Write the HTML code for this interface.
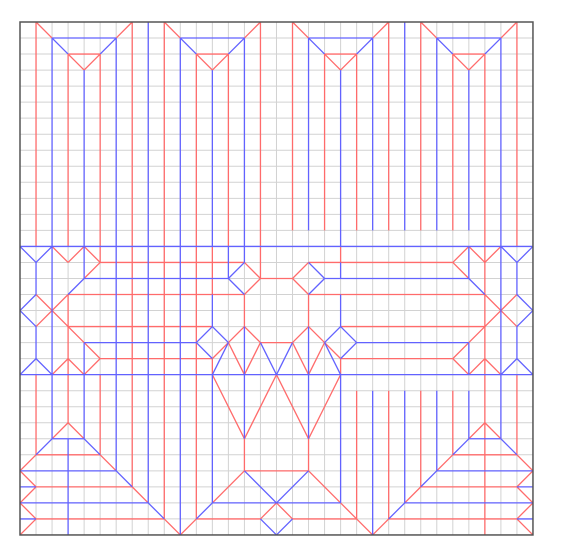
<!DOCTYPE html>
<html><head><meta charset="utf-8"><style>
html,body{margin:0;padding:0;background:#fff;width:562px;height:558px;overflow:hidden}
svg{position:absolute;left:0;top:0}
</style></head><body>
<svg id="cp" width="562" height="558"></svg>
<script>
const flapCols=[1,9,17,25];
const redSegs=[
[1,0,1,14],[3,2,3,14],[5,2,5,15],[7,0,7,14],[9,0,9,14],[11,2,11,14],[13,2,13,14],[15,0,15,16],[17,0,17,13],[19,2,19,13],[21,2,21,13],[23,0,23,13],[25,0,25,13],[27,2,27,13],[29,2,29,32],[31,0,31,14],[20,14,20,15],
[1,22,1,27],[3,17,3,25],[5,22,5,27],[7,14,7,29],[9,14,9,31],[11,14,11,31],[12,14,12,17],[12,21,12,22],[14,17,14,19],[18,17,18,19],[14,26,14,28],[18,26,18,28],[20,21,20,22],[31,22,31,27],
[21,23,21,31],[23,23,23,31],[25,23,25,29],[27,23,27,27],
[5,15,14,15],[3,17,14,17],[3,19,12,19],[5,21,12,21],[15,16,17,16],[18,15,27,15],[18,17,29,17],[20,19,29,19],[20,21,27,21],[15,20,17,20],[14,28,18,28],[1,27,5,27],[1,29,7,29],[1,31,9,31],[11,31,15,31],[17,31,21,31],[23,31,31,31],[25,29,31,29],[27,27,31,27],
[2,14,3,15],[3,15,4,14],[4,14,5,15],[5,15,4,16],[28,14,29,15],[29,15,30,14],[28,14,27,15],[27,15,28,16],
[1,17,3,19],[3,17,1,19],[29,17,31,19],[31,17,29,19],
[2,22,3,21],[3,21,4,22],[3,19,4,20],[4,20,5,21],[5,21,4,22],[28,22,29,21],[29,21,30,22],[29,19,28,20],[28,20,27,21],[27,21,28,22],
[14,15,15,16],[15,16,14,17],[17,16,18,15],[18,17,17,16],
[14,19,13,20],[14,19,15,20],[18,19,17,20],[18,19,19,20],[13,20,14,22],[15,20,14,22],[17,20,18,22],[19,20,18,22],[12,21,13,20],[20,21,19,20],
[12,22,14,26],[14,26,16,22],[16,22,18,26],[18,26,20,22],[14,28,12,30],[18,28,20,30],[15,31,16,30],[16,30,17,31],[10,32,11,31],[20,30,21,31],[21,31,22,32],[22,32,23,31],
[2,26,3,25],[3,25,4,26],[5,27,6,28],[7,29,8,30],[9,31,10,32],[1,27,0,28],[0,28,1,29],[1,29,0,30],[0,30,1,31],[1,31,0,32],
[30,26,29,25],[29,25,28,26],[27,27,26,28],[25,29,24,30],[31,27,32,28],[32,28,31,29],[31,29,32,30],[32,30,31,31],[31,31,32,32]
];
const blueSegs=[
[2,1,2,22],[4,3,4,16],[6,1,6,14],[8,0,8,14],[10,1,10,14],[12,3,12,14],[14,1,14,15],[18,1,18,13],[20,3,20,14],[20,15,20,16],[22,1,22,13],[24,0,24,13],[26,1,26,13],[28,3,28,13],[28,14,28,16],[30,1,30,26],[1,15,1,17],[1,19,1,21],[31,15,31,17],[31,19,31,21],[4,20,4,22],[28,20,28,22],
[2,22,2,26],[3,26,3,32],[4,22,4,26],[6,14,6,28],[8,14,8,30],[10,14,10,32],[12,17,12,19],[12,22,12,30],[13,14,13,16],[14,19,14,26],[18,19,18,26],[20,17,20,19],[20,22,20,30],
[22,23,22,32],[24,23,24,30],[26,23,26,28],[28,23,28,26],
[0,14,32,14],[0,22,32,22],[4,16,13,16],[4,20,11,20],[19,16,28,16],[21,20,28,20],[2,26,4,26],[0,28,6,28],[0,29,1,29],[0,30,8,30],[0,31,1,31],[12,30,20,30],[28,26,30,26],[26,28,32,28],[31,29,32,29],[24,30,32,30],[31,31,32,31],
[0,14,1,15],[1,15,2,14],[30,14,31,15],[31,15,32,14],[4,16,3,17],[28,16,29,17],[1,17,0,18],[0,18,1,19],[31,17,32,18],[32,18,31,19],[0,22,1,21],[1,21,2,22],[30,22,31,21],[31,21,32,22],
[13,16,14,15],[14,17,13,16],[18,15,19,16],[19,16,18,17],[11,20,12,19],[12,19,13,20],[11,20,12,21],[19,20,20,19],[20,19,21,20],[21,20,20,21],[13,20,12,22],[15,20,16,22],[17,20,16,22],[19,20,20,22],
[14,28,16,30],[16,30,18,28],[15,31,16,32],[16,32,17,31],[12,30,11,31],[1,27,2,26],[4,26,5,27],[6,28,7,29],[8,30,9,31],[31,27,30,26],[28,26,27,27],[26,28,25,29],[24,30,23,31]
];
const N=32;
const X0=20,Y0=22,U=16.03;
const NS='http://www.w3.org/2000/svg';
const svg=document.getElementById('cp');
function sx(i){return X0+U*i;}
function sy(j){return Y0+U*j;}
function ln(x1,y1,x2,y2,col,w){
  const l=document.createElementNS(NS,'line');
  l.setAttribute('x1',x1);l.setAttribute('y1',y1);l.setAttribute('x2',x2);l.setAttribute('y2',y2);
  l.setAttribute('stroke',col);l.setAttribute('stroke-width',w);
  svg.appendChild(l);return l;
}
for(let k=1;k<N;k++){
  const a=ln(sx(k),sy(0),sx(k),sy(N),'#d2d2d2',1);
  
  
  const b=ln(sx(0),sy(k),sx(N),sy(k),'#d2d2d2',1);
  
  
}
const RED='#ff6b6b',BLUE='#6262ff';
function seg(s,col,name){
  const l=ln(sx(s[0]),sy(s[1]),sx(s[2]),sy(s[3]),col,1.3);
  
  
}
flapCols.forEach(a=>{
  [[a,0,a+1,1],[a+6,0,a+5,1],[a+2,2,a+4,2],[a+2,2,a+3,3],[a+4,2,a+3,3]].forEach(s=>seg(s,RED,'mountain-fold'));
  [[a+1,1,a+5,1],[a+1,1,a+2,2],[a+5,1,a+4,2]].forEach(s=>seg(s,BLUE,'valley-fold'));
});
redSegs.forEach(s=>seg(s,RED,'mountain-fold'));
blueSegs.forEach(s=>seg(s,BLUE,'valley-fold'));
const r=document.createElementNS(NS,'rect');
r.setAttribute('x',sx(0));r.setAttribute('y',sy(0));
r.setAttribute('width',U*N);r.setAttribute('height',U*N);
r.setAttribute('fill','none');r.setAttribute('stroke','#555');r.setAttribute('stroke-width',1.5);


svg.appendChild(r);
</script>
</body></html>
